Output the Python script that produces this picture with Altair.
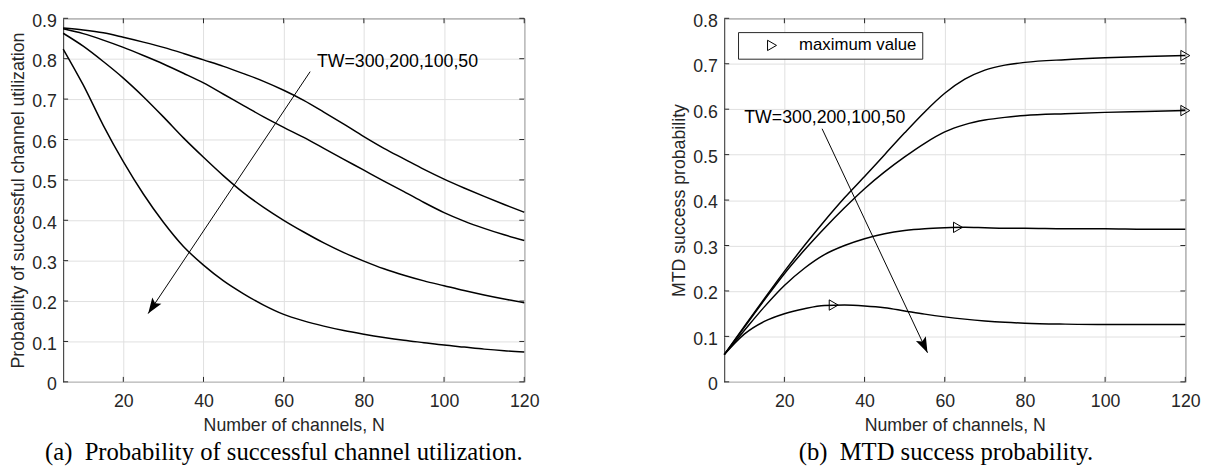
import math
import altair as alt
import pandas as pd

# ---------------- data ----------------
N_UTIL = [5, 10, 15, 20, 25, 30, 35, 40, 45, 50, 55, 60, 65, 70, 75, 80,
          85, 90, 95, 100, 105, 110, 115, 120]
UTIL_TW300 = [.876, .871, .864, .853, .841, .828, .813, .797, .781, .763, .744, .722,
              .697, .668, .638, .607, .578, .552, .526, .502, .480, .459, .439, .420]
UTIL_TW200 = [.874, .862, .846, .828, .808, .787, .764, .740, .712, .684, .656, .630,
              .605, .578, .551, .524, .497, .471, .444, .419, .398, .380, .364, .350]
UTIL_TW100 = [.863, .831, .793, .752, .706, .656, .604, .556, .510, .468, .432, .400,
              .371, .344, .320, .299, .280, .264, .250, .238, .226, .215, .205, .196]
UTIL_TW50 = [.824, .735, .635, .545, .465, .395, .335, .289, .250, .218, .190, .167,
             .151, .138, .127, .118, .110, .103, .097, .091, .086, .081, .077, .074]

N_MTD = [5, 10, 15, 20, 25, 30, 35, 40, 45, 50, 55, 60, 65, 70, 75, 80, 90, 100, 110, 120]
MTD_TW300 = [.060, .122, .183, .243, .300, .354, .405, .452, .500, .548, .594, .635,
             .666, .686, .697, .703, .709, .713, .716, .718]
MTD_TW200 = [.060, .120, .180, .238, .290, .338, .383, .425, .462, .495, .525, .550,
             .566, .576, .582, .586, .590, .593, .595, .597]
MTD_TW100 = [.060, .113, .165, .212, .250, .280, .300, .315, .326, .333, .337, .339,
             .340, .339, .338, .338, .337, .337, .336, .336]
MTD_TW50 = [.060, .105, .133, .150, .161, .168, .169, .167, .163, .156, .149, .143,
            .138, .134, .131, .129, .127, .126, .126, .126]

MAX_N = [120, 120, 63.3, 32.3]
MAX_V = [0.718, 0.597, 0.340, 0.169]
LEGEND_LABEL = "maximum value"

X_TICKS = [20, 40, 60, 80, 100, 120]
Y_TICKS_UTIL = [0, 0.1, 0.2, 0.3, 0.4, 0.5, 0.6, 0.7, 0.8, 0.9]
Y_TICKS_MTD = [0, 0.1, 0.2, 0.3, 0.4, 0.5, 0.6, 0.7, 0.8]

ANNOT_TEXT = "TW=300,200,100,50"
UTIL_TEXT_POS = (68.3, 0.792)
UTIL_ARROW = (66.6, 0.768, 26.2, 0.169)
MTD_TEXT_POS = (10.0, 0.581)
MTD_ARROW = (29.4, 0.557, 55.7, 0.064)

CAPTION_A = "(a)\u00a0\u00a0Probability of successful channel utilization."
CAPTION_B = "(b)\u00a0\u00a0MTD success probability."

# ---------------- style ----------------
W, H = 468, 369
FONT = "Liberation Sans"
SERIF = "Liberation Serif"
AX = "#262626"
GRID = "#dfdfdf"
XDOM = [5, 120]
HEAD = "M0,0 L0.7,2 L0,1.6 L-0.7,2 Z"


def long_df(xs, series):
    rows = []
    for name, vals in series:
        for x, v in zip(xs, vals):
            rows.append({"N": x, "v": v, "series": name})
    return pd.DataFrame(rows)


def panel(df, ymax, yticks, ytitle, text_pos, arrow, caption, cap_dx, extra=None):
    xs = alt.Scale(domain=XDOM, nice=False, zero=False)
    ys = alt.Scale(domain=[0, ymax], nice=False, zero=True)
    xaxis = alt.Axis(values=X_TICKS, title="Number of channels, N", grid=True,
                     gridColor=GRID, ticks=False, domain=False, labelPadding=11,
                     titlePadding=6, labelFlush=False)
    yaxis = alt.Axis(values=yticks, title=ytitle, grid=True, gridColor=GRID,
                     ticks=False, domain=False, labelPadding=7, titlePadding=4,
                     labelBaseline="top", labelOffset=-6,
                     labelExpr="datum.value == 0 ? '0' : format(datum.value, '.1f')")

    def X(f):
        return alt.X(f, scale=xs, axis=xaxis)

    def Y(f):
        return alt.Y(f, scale=ys, axis=yaxis)

    lines = alt.Chart(df).mark_line(color="black", strokeWidth=1.5,
                                    interpolate="monotone").encode(
        x=X("N:Q"), y=Y("v:Q"), detail="series:N")

    xt = pd.DataFrame({"N": X_TICKS})
    yt = pd.DataFrame({"v": yticks})
    tick_top = alt.Chart(xt).mark_rule(color=AX, strokeWidth=1).encode(
        x=X("N:Q"), y=alt.value(0), y2=alt.value(5))
    tick_bot = alt.Chart(xt).mark_rule(color=AX, strokeWidth=1).encode(
        x=X("N:Q"), y=alt.value(H), y2=alt.value(H - 5))
    tick_l = alt.Chart(yt).mark_rule(color=AX, strokeWidth=1).encode(
        y=Y("v:Q"), x=alt.value(0), x2=alt.value(5))
    tick_r = alt.Chart(yt).mark_rule(color=AX, strokeWidth=1).encode(
        y=Y("v:Q"), x=alt.value(W - 5), x2=alt.value(W))

    tdf = pd.DataFrame({"N": [text_pos[0]], "v": [text_pos[1]], "txt": [ANNOT_TEXT]})
    text = alt.Chart(tdf).mark_text(align="left", baseline="middle", font=FONT,
                                    fontSize=18, color="black").encode(
        x=X("N:Q"), y=Y("v:Q"), text="txt:N")

    x0, y0, x1, y1 = arrow
    adf = pd.DataFrame({"N": [x0], "v": [y0], "N2": [x1], "v2": [y1]})
    arr = alt.Chart(adf).mark_rule(color="black", strokeWidth=1).encode(
        x=X("N:Q"), y=Y("v:Q"), x2="N2:Q", y2="v2:Q")
    dxp = (x1 - x0) * W / (XDOM[1] - XDOM[0])
    dyp = -(y1 - y0) * H / ymax
    ang = math.degrees(math.atan2(dxp, -dyp)) % 360
    hdf = pd.DataFrame({"N": [x1], "v": [y1]})
    head = alt.Chart(hdf).mark_point(shape=HEAD, filled=True, color="black",
                                     size=250, angle=ang, opacity=1,
                                     strokeWidth=0).encode(x=X("N:Q"), y=Y("v:Q"))

    layers = [lines, tick_top, tick_bot, tick_l, tick_r, arr, head, text]
    if extra is not None:
        layers.append(extra(X, Y))
    return alt.layer(*layers).properties(
        width=W, height=H,
        title=alt.TitleParams(caption, orient="bottom", font=SERIF, fontSize=25,
                              fontWeight="normal", color="black", offset=6,
                              anchor="middle", dx=cap_dx),
    )


def marker_layer(X, Y):
    mx_df = pd.DataFrame({"N": MAX_N, "v": MAX_V, "lab": [LEGEND_LABEL] * len(MAX_N)})
    return alt.Chart(mx_df).mark_point(filled=False, color="black", size=110,
                                       strokeWidth=1, opacity=1).encode(
        x=X("N:Q"), y=Y("v:Q"),
        shape=alt.Shape("lab:N", scale=alt.Scale(range=["triangle-right"]),
                        legend=alt.Legend(title=None, orient="top-left", offset=14,
                                          labelFont=FONT, labelFontSize=17,
                                          labelColor="black", strokeColor=AX,
                                          fillColor="white", padding=5,
                                          symbolSize=110, symbolType="triangle-right",
                                          symbolStrokeColor="black",
                                          symbolFillColor="white",
                                          symbolStrokeWidth=1, symbolOffset=21,
                                          labelOffset=19, cornerRadius=0)),
    )


util_df = long_df(N_UTIL, [("TW=300", UTIL_TW300), ("TW=200", UTIL_TW200),
                           ("TW=100", UTIL_TW100), ("TW=50", UTIL_TW50)])
mtd_df = long_df(N_MTD, [("TW=300", MTD_TW300), ("TW=200", MTD_TW200),
                         ("TW=100", MTD_TW100), ("TW=50", MTD_TW50)])

left = panel(util_df, 0.9, Y_TICKS_UTIL, "Probability of successful channel utilization",
             UTIL_TEXT_POS, UTIL_ARROW, CAPTION_A, -10)
right = panel(mtd_df, 0.8, Y_TICKS_MTD, "MTD success probability",
              MTD_TEXT_POS, MTD_ARROW, CAPTION_B, -9, extra=marker_layer)

chart = alt.hconcat(left, right, spacing=132).resolve_legend(
    shape="independent"
).resolve_scale(x="independent", y="independent").properties(
    padding={"left": 1, "top": 0, "right": 5, "bottom": 0}
).configure_view(stroke=AX, strokeWidth=1).configure_axis(
    labelFont=FONT, labelFontSize=18, labelColor=AX,
    titleFont=FONT, titleFontSize=18, titleColor=AX, titleFontWeight="normal",
)

chart.save("out.html", embed_options={"renderer": "svg", "actions": False})
